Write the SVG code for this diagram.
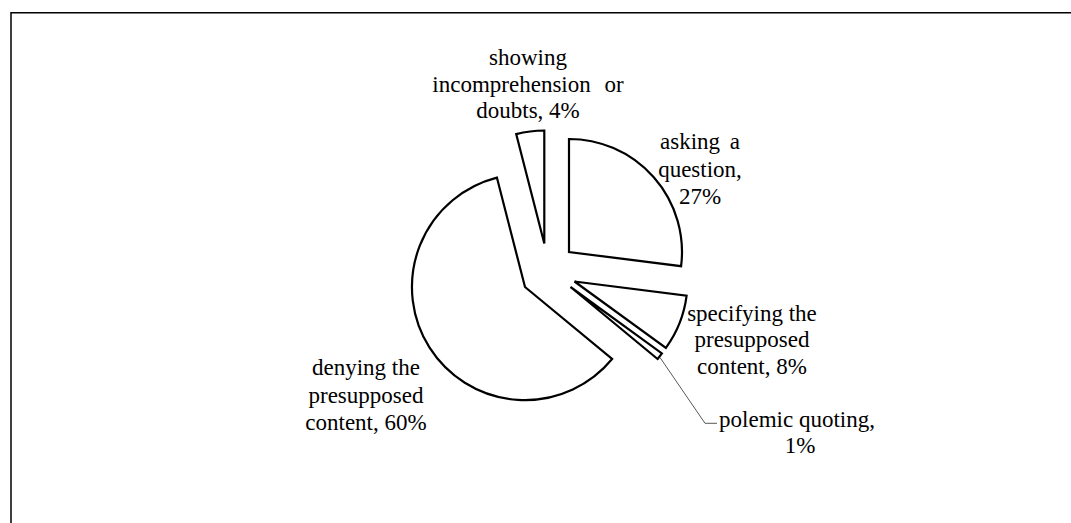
<svg xmlns="http://www.w3.org/2000/svg" width="1071" height="523" viewBox="0 0 1071 523">
<style>
.slice{fill:#fff;stroke:#000;stroke-width:2.2;stroke-linejoin:miter}
.lbl{font-family:"Liberation Serif","Times New Roman",serif;font-size:23px;fill:#000;text-anchor:middle}
.leader{fill:none;stroke:#595959;stroke-width:1}
</style>
<rect width="1071" height="523" fill="#fff"/>
<path d="M11,523 V12.7 H1071" fill="none" stroke="#000" stroke-width="1.5"/>
<g id="slices">
<g id="asking"><path class="slice" d="M569,252 L569,139 A113,113 0 0 1 681.1,266.2 Z"/></g>
<g id="specifying"><path class="slice" d="M574.5,281.5 L686.6,295.7 A113,113 0 0 1 665.9,347.9 Z"/></g>
<g id="polemic"><path class="slice" d="M570.5,287 L661.9,353.4 A113,113 0 0 1 657.6,359 Z"/></g>
<g id="denying"><path class="slice" d="M525,287 L612.1,359 A113,113 0 1 1 496.9,177.6 Z"/></g>
<g id="showing"><path class="slice" d="M544.3,243.5 L516.2,134.1 A113,113 0 0 1 544.3,130.5 Z"/></g>
</g>
<g id="connectors">
<path class="leader" d="M660,357.5 L705,423.3 L717,423.3"/>
</g>
<g id="labels">
<g id="label-showing">
<text class="lbl" x="528" y="65">showing</text>
<text class="lbl" x="528" y="92" word-spacing="8">incomprehension or</text>
<text class="lbl" x="528" y="118">doubts, 4%</text>
</g>
<g id="label-asking">
<text class="lbl" x="700" y="149" word-spacing="4">asking a</text>
<text class="lbl" x="700" y="176.5">question,</text>
<text class="lbl" x="700" y="204">27%</text>
</g>
<g id="label-specifying">
<text class="lbl" x="752" y="320.5">specifying the</text>
<text class="lbl" x="752" y="347.3">presupposed</text>
<text class="lbl" x="752" y="374.3">content, 8%</text>
</g>
<g id="label-polemic">
<text class="lbl" x="797" y="426.5">polemic quoting,</text>
<text class="lbl" x="800" y="453">1%</text>
</g>
<g id="label-denying">
<text class="lbl" x="366" y="375">denying the</text>
<text class="lbl" x="366" y="402.5">presupposed</text>
<text class="lbl" x="366" y="430">content, 60%</text>
</g>
</g>
</svg>
